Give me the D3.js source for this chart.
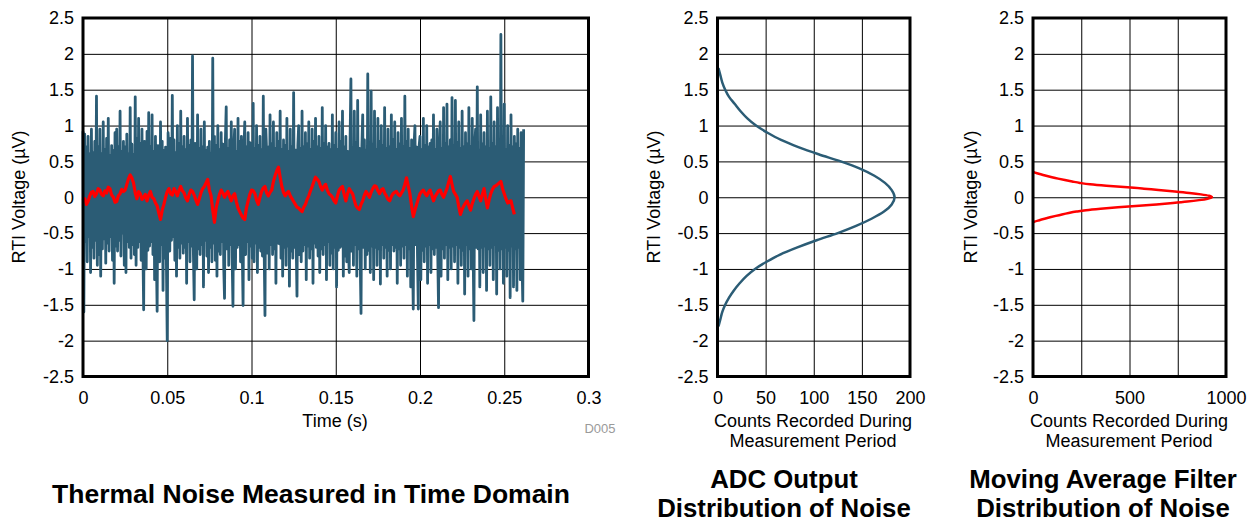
<!DOCTYPE html>
<html>
<head>
<meta charset="utf-8">
<script src="https://cdn.jsdelivr.net/npm/d3@7"></script>
<style>
  body { margin: 0; background: #fff; }
  svg { display: block; font-family: Arial, "Liberation Sans", sans-serif; }
</style>
</head>
<body>
<svg id="chart" width="1255" height="521"></svg>
<script>
// ---- data ----
const voltTicks = [-2.5, -2, -1.5, -1, -0.5, 0, 0.5, 1, 1.5, 2, 2.5];
const timeTicks = [0, 0.05, 0.1, 0.15, 0.2, 0.25, 0.3];
const adcCountTicks = [0, 50, 100, 150, 200];
const mavgCountTicks = [0, 250, 500, 750, 1000];

// raw ADC output, one sample per 0.5 ms (µV)
const rawStep = 0.0005;
const rawNoise = [
  0.92, -1.60, 0.88, -0.62, 0.70, -0.90, 0.85, -0.55, 0.60, -1.05, 0.95, -0.70, 0.62, -0.85, 0.78, -0.60, 1.41, -0.95, 0.70, -0.80,
  0.95, -1.10, 0.60, -0.72, 1.05, -0.58, 0.66, -0.92, 0.82, -0.64, 1.10, -0.75, 0.58, -0.55, 0.72, -0.88, 0.65, -1.20, 0.90, -0.68,
  0.95, -0.75, 0.70, -0.60, 1.20, -0.82, 0.64, -0.50, 0.78, -0.95, 0.70, -1.05, 0.88, -0.62, 0.60, -0.70, 1.25, -0.85, 0.74, -0.66,
  0.60, -0.80, 1.40, -0.95, 0.82, -0.70, 1.10, -0.62, 0.75, -0.88, 0.95, -0.60, -1.57, 0.78, 0.66, -1.00, 0.92, -0.74, 1.18, -0.68,
  0.70, -0.62, 1.15, -0.80, 0.64, -1.15, 0.85, -0.72, -1.59, 0.72, 0.60, -0.90, 1.05, -0.66, 0.78, -1.30, 0.65, -0.85, 0.70, -0.92,
  -2.00, 0.90, 0.68, -0.75, 0.82, -0.60, 1.42, -0.55, 0.80, -0.88, 0.62, -1.10, 1.00, -0.70, 0.75, -0.85, 1.20, -0.64, 0.70, -0.78,
  0.85, -0.70, 0.66, -1.20, 1.10, -0.62, 0.72, -0.90, 0.80, -0.68, 1.97, -0.75, -1.43, 0.75, 0.64, -1.00, 1.15, -0.72, 0.68, -0.80,
  0.95, -0.66, 0.70, -1.25, 1.05, -0.60, 0.65, -0.82, 0.70, -1.05, 0.78, -0.70, 0.62, -0.90, 1.94, -0.64, 0.85, -0.88, 0.72, -1.10,
  1.00, -0.75, 0.66, -0.80, 0.90, -0.62, 0.74, -0.95, -1.41, 0.80, 1.26, -0.72, 0.68, -0.95, 0.80, -0.66, 1.05, -0.84, -1.52, 0.70,
  0.95, -1.00, 0.64, -0.70, 1.10, -0.66, 0.78, -0.90, 0.85, -0.72, -1.51, 0.66, 1.05, -0.80, 0.70, -0.62, 0.90, -1.15, 0.76, -0.68,
  0.75, -0.85, 1.31, -0.90, 0.68, -0.64, 1.00, -1.05, 0.72, -0.70, 0.85, -0.75, 0.66, -0.82, 1.41, -0.70, -1.65, 0.95, 0.62, -0.78,
  0.70, -1.00, 1.15, -0.66, 0.74, -0.80, 1.05, -0.72, 0.68, -1.20, 0.90, -0.64, 0.78, -0.65, 1.20, -0.85, 0.66, -1.10, 0.80, -0.70,
  0.72, -0.95, 1.10, -0.68, 0.64, -1.24, 0.95, -0.75, 0.70, -0.85, 1.46, -0.70, 0.66, -0.62, -1.38, 0.72, 1.00, -0.80, 0.68, -0.90,
  1.20, -0.75, 0.70, -0.66, 0.90, -1.15, 0.74, -0.68, 1.05, -0.85, 0.66, -0.72, 0.95, -1.20, 0.78, -0.64, 1.10, -0.70, 0.70, -0.82,
  0.85, -1.05, 0.68, -0.72, 1.25, -0.80, 0.74, -0.66, 1.00, -1.15, 0.70, -0.62, 0.75, -0.95, 0.66, -0.78, 1.15, -1.00, 0.72, -0.70,
  0.90, -1.25, 0.66, -0.74, 1.05, -0.70, 0.78, -0.68, 1.20, -1.10, 0.70, -0.82, 0.85, -0.90, 0.64, -0.72, -1.05, 0.80, 1.65, -0.75,
  0.70, -0.95, 1.20, -0.66, 0.76, -1.10, 1.35, -0.72, 0.68, -0.85, -1.62, 0.72, 1.15, -0.70, 0.80, -1.00, 0.66, -0.80, 1.72, -0.74,
  0.70, -1.05, 1.48, -0.68, 0.74, -1.15, 1.20, -0.70, 0.66, -0.95, 1.10, -0.72, 0.78, -1.21, 1.00, -0.66, 0.72, -0.85, 1.25, -0.70,
  0.68, -1.10, 0.95, -0.74, 0.70, -1.00, 1.15, -0.66, 0.80, -0.75, 1.05, -0.70, 0.66, -1.20, 0.90, -0.72, 0.74, -0.95, 1.10, -0.68,
  0.70, -0.85, 1.41, -0.66, 0.78, -1.10, 0.95, -0.72, 0.68, -1.25, 0.80, -0.70, -1.56, 0.74, 1.00, -0.66, 0.70, -0.80, -1.56, 0.72,
  0.85, -1.15, 0.66, -0.74, 1.10, -0.90, 0.72, -0.68, 1.00, -1.20, 0.70, -0.66, 0.75, -1.05, 0.80, -0.72, 1.15, -0.80, 0.66, -0.70,
  0.95, -0.74, -1.54, 0.70, 1.05, -1.10, 0.68, -0.72, 1.25, -0.85, 0.74, -0.66, 1.30, -1.15, 0.70, -0.70, 0.80, -1.00, 1.39, -0.68,
  0.72, -0.90, 1.35, -0.66, 0.76, -1.20, 1.05, -0.70, 0.68, -0.95, 1.20, -0.74, 0.70, -1.35, 0.90, -0.66, 0.74, -1.10, 1.25, -0.72,
  0.70, -1.00, 1.10, -0.68, -1.72, 0.74, 0.95, -0.70, 1.54, -0.72, 0.66, -1.25, 1.15, -0.70, 0.74, -1.05, 0.90, -0.68, 0.70, -1.30,
  1.20, -0.72, 0.68, -0.95, 1.40, -0.70, 0.74, -1.15, 1.05, -0.66, 0.70, -1.35, 1.25, -0.74, 0.68, -1.00, 2.27, -0.72, 0.76, -1.20,
  1.30, -0.70, 0.66, -1.10, 1.00, -0.74, 0.72, -1.40, 1.15, -0.68, 0.70, -1.25, 0.85, -0.72, 0.74, -1.30, 0.95, -0.70, 0.68, -1.15,
  0.90, -0.85, -1.45, 0.95
];

// moving average output, one point per ms (µV)
const avgStep = 0.001;
const avgNoise = [
  -0.05, -0.02, -0.10, -0.06, 0.02, 0.07, 0.08, 0.01, 0.05, 0.12, 0.10, 0.04, 0.02, 0.09, 0.06, 0.14, 0.12, 0.03, 0.00, -0.07,
  -0.06, 0.02, 0.05, 0.11, 0.08, 0.10, 0.18, 0.26, 0.31, 0.27, 0.20, 0.06, -0.02, 0.08, 0.05, -0.03, 0.00, 0.04, -0.05, 0.03,
  0.08, 0.00, -0.02, -0.08, -0.12, -0.22, -0.31, -0.18, -0.10, 0.00, 0.08, 0.12, 0.05, 0.03, 0.12, 0.08, 0.02, 0.10, 0.15, 0.09,
  0.06, -0.01, -0.05, 0.04, 0.10, 0.08, 0.03, -0.04, -0.10, -0.02, 0.06, 0.12, 0.15, 0.20, 0.25, 0.10, 0.02, -0.18, -0.35, -0.15,
  -0.05, 0.04, 0.10, 0.06, 0.00, 0.05, 0.08, 0.01, -0.05, 0.02, 0.05, -0.06, -0.15, -0.20, -0.25, -0.29, -0.31, -0.15, -0.05, 0.04,
  0.10, 0.09, 0.05, -0.04, -0.10, 0.00, 0.08, 0.13, 0.15, 0.06, 0.02, 0.07, 0.10, 0.22, 0.30, 0.37, 0.42, 0.28, 0.15, 0.07,
  0.02, 0.06, 0.08, 0.02, -0.02, -0.06, -0.10, -0.14, -0.15, -0.18, -0.20, -0.14, -0.10, -0.03, 0.02, 0.09, 0.15, 0.22, 0.28, 0.25,
  0.22, 0.15, 0.10, 0.15, 0.18, 0.10, 0.05, 0.03, 0.00, -0.05, -0.08, 0.02, 0.10, 0.13, 0.15, 0.04, -0.05, 0.05, 0.12, 0.08,
  0.05, -0.04, -0.12, -0.15, -0.17, -0.10, -0.05, 0.03, 0.08, 0.04, 0.00, 0.07, 0.12, 0.16, 0.15, 0.09, 0.05, 0.10, 0.12, 0.06,
  0.02, -0.03, -0.05, 0.01, 0.05, 0.07, 0.08, 0.04, 0.02, 0.06, 0.10, 0.18, 0.27, 0.16, 0.05, -0.12, -0.27, -0.18, -0.10, -0.02,
  0.05, 0.08, 0.10, 0.05, 0.02, 0.07, 0.10, 0.03, -0.05, 0.01, 0.05, 0.09, 0.10, 0.04, 0.00, 0.06, 0.12, 0.21, 0.29, 0.18,
  0.08, 0.04, 0.00, -0.13, -0.24, -0.17, -0.12, -0.08, -0.05, -0.12, -0.18, -0.09, -0.02, 0.04, 0.08, 0.01, -0.05, 0.04, 0.12, -0.02,
  -0.15, -0.04, 0.05, 0.11, 0.15, 0.16, 0.18, 0.20, 0.22, 0.12, 0.05, -0.02, -0.08, -0.06, -0.05, -0.15, -0.24
];

// ADC output histogram (voltage, counts)
const adcVolts = [1.8, 1.7, 1.6, 1.5, 1.4, 1.3, 1.2, 1.1, 1.0, 0.9, 0.8, 0.7, 0.6, 0.5, 0.4, 0.3, 0.2, 0.1, 0,
  -0.1, -0.2, -0.3, -0.4, -0.5, -0.6, -0.7, -0.8, -0.9, -1.0, -1.1, -1.2, -1.3, -1.4, -1.5, -1.6, -1.7, -1.8];
const adcCounts = [1, 3, 5, 8, 12, 18, 24, 31, 40, 52, 66, 84, 105, 128, 148, 163, 174, 181, 184,
  181, 173, 160, 144, 125, 103, 83, 65, 51, 39, 30, 23, 17, 12, 8, 5, 3, 1];

// moving average histogram (voltage, counts)
const mavgVolts = [0.35, 0.34, 0.32, 0.30, 0.28, 0.26, 0.24, 0.22, 0.20, 0.18, 0.16, 0.14, 0.12, 0.10, 0.08, 0.06, 0.04, 0.02, 0,
  -0.02, -0.04, -0.06, -0.08, -0.10, -0.12, -0.14, -0.16, -0.18, -0.20, -0.22, -0.24, -0.26, -0.28, -0.30, -0.32, -0.34, -0.35];
const mavgCounts = [3, 15, 40, 68, 98, 130, 165, 203, 243, 295, 380, 490, 575, 650, 735, 810, 870, 912, 927,
  905, 860, 800, 725, 640, 550, 440, 350, 275, 225, 185, 150, 118, 88, 60, 33, 8, 2];

const blue = "#2b5c75";
const red = "#ff0000";

const svg = d3.select("#chart");
const yRange = [376.5, 18];

function frame(x, y, xTicks, xFormat) {
  const [l, r] = x.range();
  const [b, t] = y.range();
  const g = svg.append("g");

  // grid
  g.append("g")
    .attr("transform", `translate(${l},0)`)
    .call(d3.axisLeft(y).tickValues(voltTicks).tickSize(-(r - l)).tickFormat(""))
    .call(s => s.select(".domain").remove())
    .selectAll("line").attr("stroke", "#000").attr("stroke-width", 1);
  g.append("g")
    .attr("transform", `translate(0,${b})`)
    .call(d3.axisBottom(x).tickValues(xTicks).tickSize(-(b - t)).tickFormat(""))
    .call(s => s.select(".domain").remove())
    .selectAll("line").attr("stroke", "#000").attr("stroke-width", 1);

  // tick labels
  g.append("g")
    .attr("transform", `translate(${l},0)`)
    .call(d3.axisLeft(y).tickValues(voltTicks).tickSize(0).tickPadding(9).tickFormat(d => String(d)))
    .call(s => s.select(".domain").remove())
    .attr("font-size", 18).attr("font-family", null)
    .selectAll("text").attr("fill", "#000");
  g.append("g")
    .attr("transform", `translate(0,${b})`)
    .call(d3.axisBottom(x).tickValues(xTicks).tickSize(0).tickPadding(15).tickFormat(xFormat))
    .call(s => s.select(".domain").remove())
    .attr("font-size", 18).attr("font-family", null)
    .selectAll("text").attr("fill", "#000");

  return g;
}

function border(g, x, y) {
  const [l, r] = x.range();
  const [b, t] = y.range();
  g.append("rect")
    .attr("x", l).attr("y", t)
    .attr("width", r - l).attr("height", b - t)
    .attr("fill", "none").attr("stroke", "#000").attr("stroke-width", 3);
}

function yTitle(cx) {
  svg.append("text")
    .attr("transform", `translate(${cx},197) rotate(-90)`)
    .attr("text-anchor", "middle").attr("dy", "0.35em")
    .attr("font-size", 18)
    .text("RTI Voltage (µV)");
}

function text(x, y, str, size, weight, fill) {
  svg.append("text")
    .attr("x", x).attr("y", y)
    .attr("text-anchor", "middle")
    .attr("font-size", size)
    .attr("font-weight", weight || "normal")
    .attr("fill", fill || "#000")
    .text(str);
}

// ---- time domain ----
const xTime = d3.scaleLinear().domain([0, 0.3]).range([83, 588.5]);
const yVolt = d3.scaleLinear().domain([-2.5, 2.5]).range(yRange);

const g1 = frame(xTime, yVolt, timeTicks, d => String(d));
g1.append("path")
  .datum(rawNoise)
  .attr("fill", "none").attr("stroke", blue).attr("stroke-width", 2.8)
  .attr("stroke-linejoin", "round")
  .attr("d", d3.line().x((d, i) => xTime(i * rawStep)).y(d => yVolt(d)));
g1.append("path")
  .datum(avgNoise)
  .attr("fill", "none").attr("stroke", red).attr("stroke-width", 3.2)
  .attr("stroke-linejoin", "round")
  .attr("d", d3.line().x((d, i) => xTime(i * avgStep)).y(d => yVolt(d)));
border(g1, xTime, yVolt);
yTitle(19);
text(335, 427, "Time (s)", 18);
text(600, 433, "D005", 13, "normal", "#9a9a9a");
text(311, 503, "Thermal Noise Measured in Time Domain", 26.5, "bold");

// ---- ADC distribution ----
const xAdc = d3.scaleLinear().domain([0, 200]).range([717.5, 910]);
const g2 = frame(xAdc, yVolt, adcCountTicks, d => String(d));
g2.append("path")
  .datum(adcVolts.map((v, i) => ({ volt: v, count: adcCounts[i] })))
  .attr("fill", "none").attr("stroke", blue).attr("stroke-width", 2.5)
  .attr("d", d3.line().curve(d3.curveMonotoneY).x(d => xAdc(d.count)).y(d => yVolt(d.volt)));
border(g2, xAdc, yVolt);
yTitle(654);
text(813, 427, "Counts Recorded During", 18);
text(813, 447, "Measurement Period", 18);
text(784, 487.5, "ADC Output", 25.8, "bold");
text(784, 516.5, "Distribution of Noise", 25.8, "bold");

// ---- moving average distribution ----
const xMavg = d3.scaleLinear().domain([0, 1000]).range([1033, 1226]);
const g3 = frame(xMavg, yVolt, mavgCountTicks, d => (d % 500 === 0 ? String(d) : ""));
g3.append("path")
  .datum(mavgVolts.map((v, i) => ({ volt: v, count: mavgCounts[i] })))
  .attr("fill", "none").attr("stroke", red).attr("stroke-width", 2.5)
  .attr("d", d3.line().curve(d3.curveMonotoneY).x(d => xMavg(d.count)).y(d => yVolt(d.volt)));
border(g3, xMavg, yVolt);
yTitle(971);
text(1129, 427, "Counts Recorded During", 18);
text(1129, 447, "Measurement Period", 18);
text(1103, 487.5, "Moving Average Filter", 25.8, "bold");
text(1103, 516.5, "Distribution of Noise", 25.8, "bold");
</script>
</body>
</html>
